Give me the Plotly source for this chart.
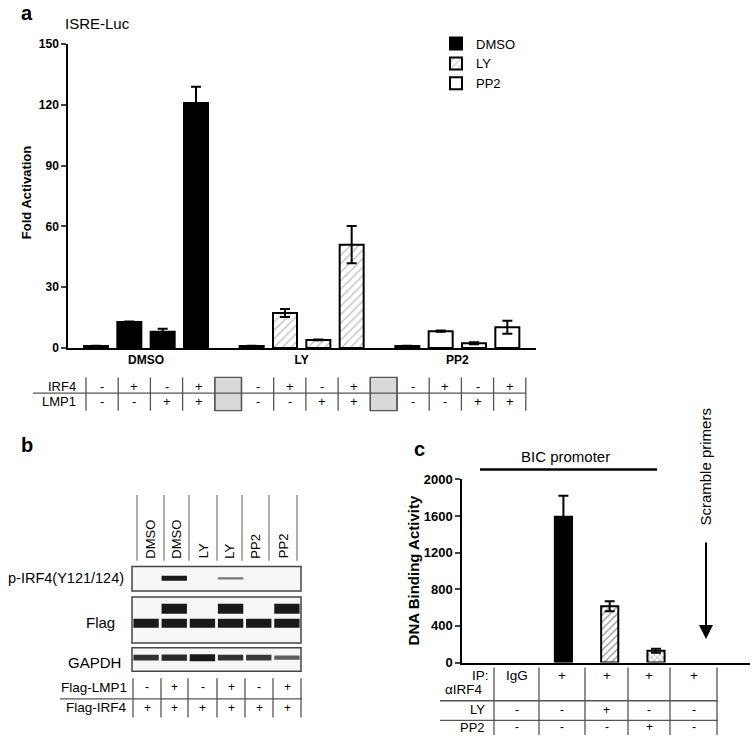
import plotly.graph_objects as go

W, H = 752, 746

# ---- panel a: ISRE-Luc reporter
groups = ["DMSO", "LY", "PP2"]
fold_dmso = [1.0, 12.8, 8.0, 121.0]
fold_ly = [1.0, 17.3, 4.0, 51.0]
fold_pp2 = [1.0, 8.3, 2.4, 10.2]
err_dmso = [0.1, 0.3, 1.5, 8.0]
err_ly = [0.1, 2.0, 0.2, 9.2]
err_pp2 = [0.1, 0.3, 0.5, 3.2]
irf4_row = ["-", "+", "-", "+"]
lmp1_row = ["-", "-", "+", "+"]

# ---- panel b: western blot (relative band intensity per lane)
blot_lanes = ["DMSO", "DMSO", "LY", "LY", "PP2", "PP2"]
p_irf4 = [0.0, 1.0, 0.0, 0.45, 0.0, 0.0]
flag_lmp1_band = [0.0, 1.0, 0.0, 1.0, 0.0, 1.0]
flag_irf4_band = [1.0, 1.0, 1.0, 1.0, 1.0, 1.0]
gapdh = [0.85, 0.9, 1.0, 0.85, 0.8, 0.6]
flag_lmp1_row = ["-", "+", "-", "+", "-", "+"]
flag_irf4_row = ["+", "+", "+", "+", "+", "+"]

# ---- panel c: ChIP
chip_vals = [0, 1590, 615, 128, 0]
chip_err = [0, 230, 55, 22, 0]
chip_color = ["white", "black", "white", "white", "white"]
chip_pattern = ["", "", "/", "x", ""]
ip_row = ["IgG", "+", "+", "+", "+"]
ly_row = ["-", "-", "+", "-", "-"]
pp2_row = ["-", "-", "-", "+", "-"]

FONT = "Arial, Liberation Sans, sans-serif"


def px(x):
    return x / W


def py(y):
    return 1 - y / H


shapes = []
annos = []


def line(x0, y0, x1, y1, color="#555555", width=1.3):
    shapes.append(dict(type="line", xref="paper", yref="paper",
                       x0=px(x0), y0=py(y0), x1=px(x1), y1=py(y1),
                       line=dict(color=color, width=width)))


def rect(x0, y0, x1, y1, fill, color="#555555", width=1.3):
    shapes.append(dict(type="rect", xref="paper", yref="paper",
                       x0=px(x0), y0=py(y0), x1=px(x1), y1=py(y1),
                       fillcolor=fill, line=dict(color=color, width=width), layer="below"))


def text(x, y, s, size=12, bold=False, xanchor="center", yanchor="middle", angle=0):
    annos.append(dict(xref="paper", yref="paper", x=px(x), y=py(y), text=s,
                      showarrow=False, xanchor=xanchor, yanchor=yanchor, textangle=angle,
                      borderpad=0, font=dict(family=FONT, size=size, color="black",
                                             weight="bold" if bold else "normal")))


fig = go.Figure()

# panel a bars
step = 4.67
series = [("DMSO", fold_dmso, err_dmso, "black", ""),
          ("LY", fold_ly, err_ly, "white", "/"),
          ("PP2", fold_pp2, err_pp2, "white", "")]
for g, (name, vals, errs, col, pat) in enumerate(series):
    fig.add_trace(go.Bar(
        x=[g * step + j for j in range(4)], y=vals, name=name, width=0.72,
        marker=dict(color=col, line=dict(color="black", width=2),
                    pattern=dict(shape=pat, fgcolor="#8c8c8c", size=6, solidity=0.25)),
        error_y=dict(type="data", array=errs, color="black", thickness=2, width=5),
        xaxis="x", yaxis="y"))

# panel c bars (IgG / scramble give no signal, so nothing is drawn there)
keep = [i for i, v in enumerate(chip_vals) if v > 0]
fig.add_trace(go.Bar(
    x=keep, y=[chip_vals[i] for i in keep], width=0.37, showlegend=False,
    marker=dict(color=[chip_color[i] for i in keep],
                line=dict(color="black", width=2),
                pattern=dict(shape=[chip_pattern[i] for i in keep], fgcolor="#333333",
                             size=[6, 5, 4], solidity=0.3)),
    error_y=dict(type="data", array=[chip_err[i] for i in keep],
                 color="black", thickness=2, width=5),
    xaxis="x2", yaxis="y2"))

# panel b blot bands
row_y = {"p": 583, "up": 614, "low": 629, "g": 664}


def band(lane, y, inten, thick):
    lvl = int(25 + (1 - inten) * 170)
    fig.add_trace(go.Scatter(
        x=[lane - 0.45, lane + 0.45], y=[y, y], mode="lines", showlegend=False,
        line=dict(color=f"rgb({lvl},{lvl},{lvl})", width=thick * inten),
        xaxis="x3", yaxis="y3", hoverinfo="skip"))


for i in range(len(blot_lanes)):
    lane = i + 1
    if p_irf4[i] > 0:
        band(lane, row_y["p"], p_irf4[i], 5)
    if flag_lmp1_band[i] > 0:
        band(lane, row_y["up"], flag_lmp1_band[i], 10)
    if flag_irf4_band[i] > 0:
        band(lane, row_y["low"], flag_irf4_band[i], 9)
    band(lane, row_y["g"], gapdh[i], 7)

# ---- axes
fig.update_layout(
    xaxis=dict(domain=[px(68), px(536)], range=[-0.84, 13.2], showline=True,
               linecolor="black", linewidth=1.5, ticks="", showgrid=False, zeroline=False,
               tickvals=[g * step + 1.5 for g in range(3)], ticktext=groups,
               tickfont=dict(family=FONT, size=12, weight="bold", color="black"),
               anchor="y"),
    yaxis=dict(domain=[py(348), py(38)], range=[0, 150], showline=True,
               linecolor="black", linewidth=1.5, ticks="outside", ticklen=5, tickwidth=1.5,
               tickvals=[0, 30, 60, 90, 120, 150], showgrid=False, zeroline=False,
               tickfont=dict(family=FONT, size=12, weight="bold", color="black"),
               anchor="x"),
    xaxis2=dict(domain=[px(462), px(750)], range=[-1.19, 5.03], showline=True,
                linecolor="black", linewidth=1.5, ticks="", showticklabels=False,
                showgrid=False, zeroline=False, anchor="y2"),
    yaxis2=dict(domain=[py(669), py(482)], range=[0, 2000], showline=True,
                linecolor="black", linewidth=1.5, ticks="outside", ticklen=5, tickwidth=1.5,
                tickvals=[0, 400, 800, 1200, 1600, 2000], showgrid=False, zeroline=False,
                tickfont=dict(family=FONT, size=13, weight="bold", color="black"),
                anchor="x2"),
    xaxis3=dict(domain=[px(132), px(301)], range=[0.5, 6.5], visible=False, anchor="y3"),
    yaxis3=dict(domain=[py(678), py(571)], range=[678, 571], visible=False, anchor="x3"),
)

# ---- panel a text
text(27, 6, "a", 20, True)
text(64, 17, "ISRE-Luc", 15, xanchor="left")
text(26, 190, "Fold Activation", 13, True, angle=-90)

# panel a table
for g in range(3):
    cols = [86 + 32.2 * k + 155.5 * g for k in range(5)]
    if g < 2:
        rect(cols[4], 378, 86 + 155.5 * (g + 1), 412, "#d9d9d9")
    for xv in cols:
        line(xv, 378, xv, 412)
    for j in range(4):
        cx = (cols[j] + cols[j + 1]) / 2
        text(cx, 387, irf4_row[j], 13)
        text(cx, 403, lmp1_row[j], 13)
line(33, 394, 526, 394)
text(77, 387, "IRF4", 13, xanchor="right")
text(77, 403, "LMP1", 13, xanchor="right")

# ---- panel b text
text(27, 447, "b", 20, True)
lane_lines = [137, 164, 189, 217, 242, 269, 297]
for xv in lane_lines:
    line(xv, 498, xv, 565, "#777777", 1.2)
for i, lab in enumerate(blot_lanes):
    text((lane_lines[i] + lane_lines[i + 1]) / 2, 564, lab, 13, yanchor="bottom", angle=-90)
rect(132, 571, 301, 596, "#f6f6f6", "#444444", 1.5)
rect(132, 602, 301, 649, "#f6f6f6", "#444444", 1.5)
rect(132, 654, 301, 678, "#f6f6f6", "#444444", 1.5)
text(125, 583, "p-IRF4(Y121/124)", 14.5, xanchor="right")
text(116, 628, "Flag", 15, xanchor="right")
text(122, 669, "GAPDH", 15, xanchor="right")

tb_cols = [133, 161, 188, 217, 245, 273, 301]
for xv in tb_cols:
    line(xv, 685, xv, 725)
line(60, 706, 302, 706)
for i in range(6):
    cx = (tb_cols[i] + tb_cols[i + 1]) / 2
    text(cx, 694, flag_lmp1_row[i], 12)
    text(cx, 715, flag_irf4_row[i], 12)
text(128, 694, "Flag-LMP1", 13.5, xanchor="right")
text(128, 715, "Flag-IRF4", 13.5, xanchor="right")

# ---- panel c text
text(420, 451, "c", 20, True)
text(565, 459, "BIC promoter", 15)
line(480, 472, 657, 472, "black", 2.5)
text(413, 575, "DNA Binding Activity", 15, True, angle=-90)
text(706, 469, "Scramble primers", 15, angle=-90)
annos.append(dict(xref="paper", yref="paper", x=px(706), y=py(645), ax=0, ay=-98,
                  axref="pixel", ayref="pixel", text="", showarrow=True,
                  arrowhead=2, arrowsize=1.4, arrowwidth=2, arrowcolor="black"))

tc_cols = [494, 539, 585, 628, 670, 717]
for xv in tc_cols:
    line(xv, 674, xv, 743)
line(440, 708, 718, 708)
line(440, 728, 718, 728)
for i in range(5):
    cx = (tc_cols[i] + tc_cols[i + 1]) / 2
    text(cx, 682, ip_row[i], 13.5)
    text(cx, 717, ly_row[i], 12)
    text(cx, 735, pp2_row[i], 12)
text(490, 682, "IP:", 13.5, xanchor="right")
text(484, 696, "αIRF4", 13.5, xanchor="right")
text(486, 717, "LY", 13, xanchor="right")
text(486, 735, "PP2", 13, xanchor="right")

fig.update_layout(
    width=W, height=H, margin=dict(l=0, r=0, t=0, b=0),
    plot_bgcolor="white", paper_bgcolor="white",
    barmode="overlay", shapes=shapes, annotations=annos,
    font=dict(family=FONT, color="black"),
    legend=dict(x=px(436), y=py(22), xanchor="left", yanchor="top",
                font=dict(family=FONT, size=13, color="black"),
                bgcolor="rgba(0,0,0,0)", tracegroupgap=0),
)

fig.write_html("out.html", config={"displayModeBar": False},
               post_script="document.body.style.margin='0';")
